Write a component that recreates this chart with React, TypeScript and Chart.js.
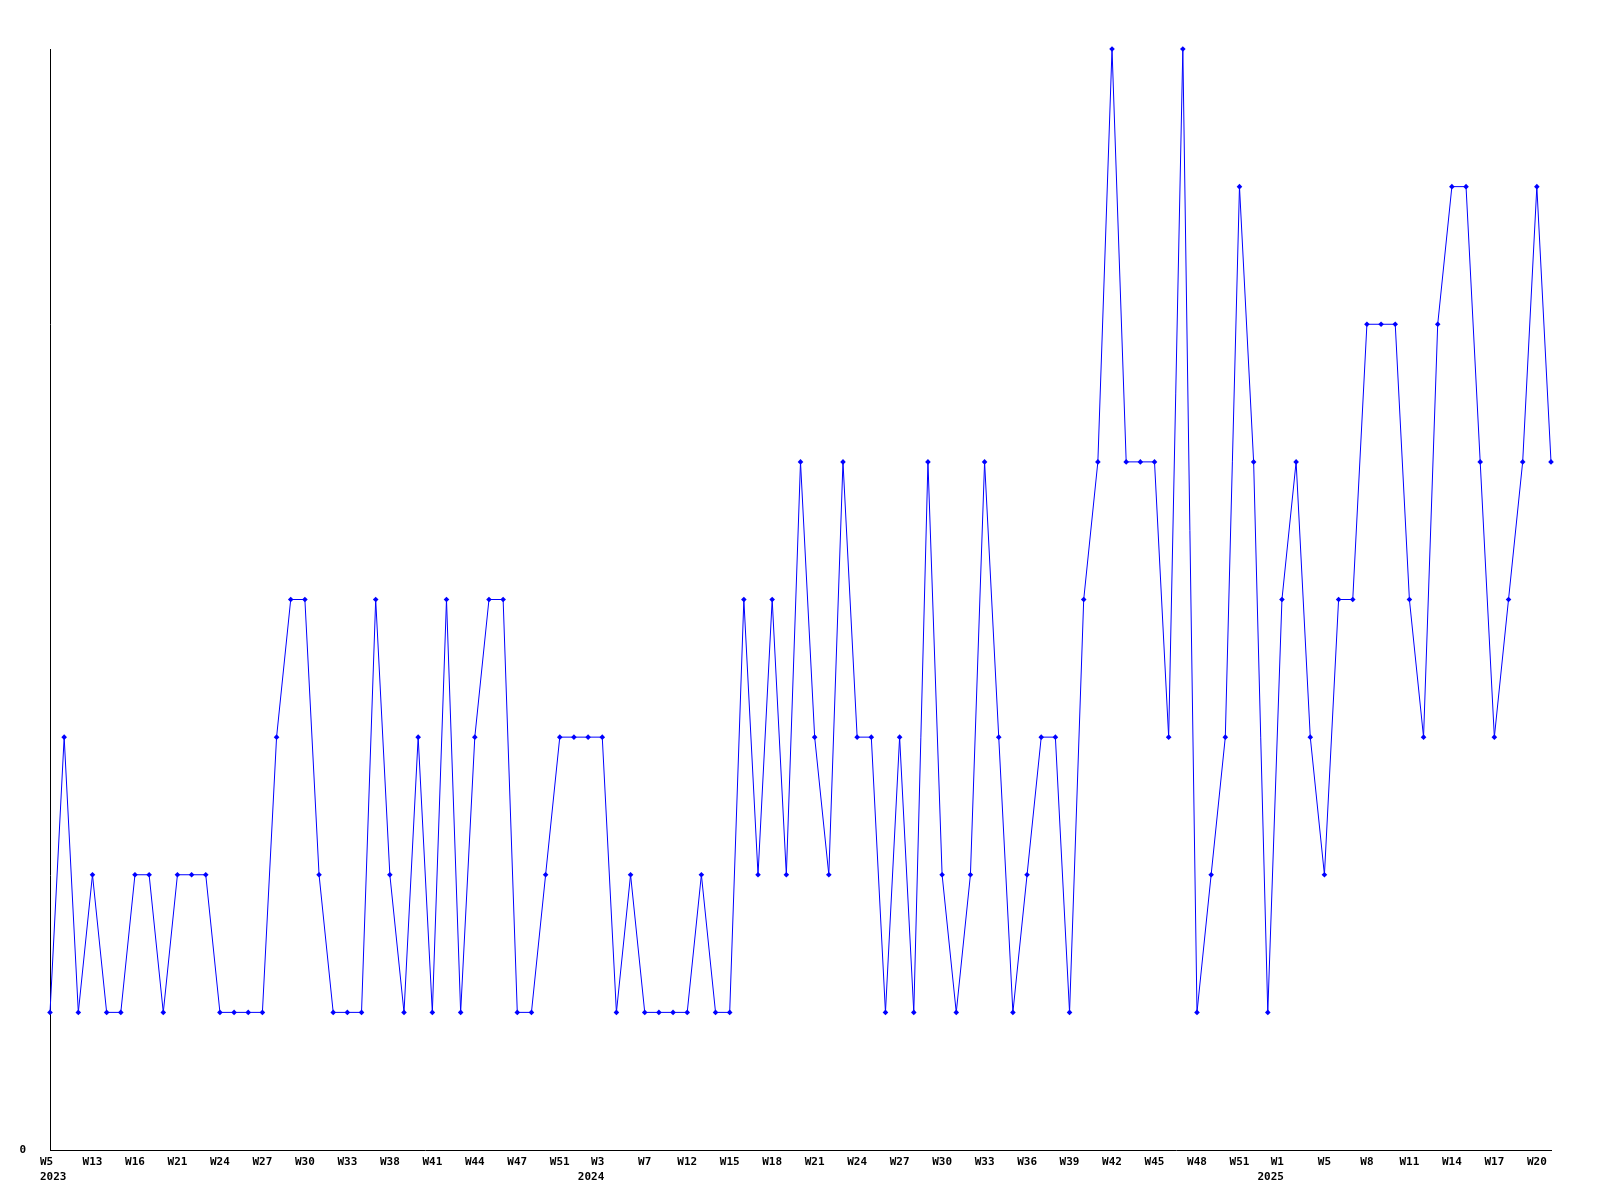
import React, { useEffect, useRef } from "react";
import { Chart, registerables } from "chart.js";

Chart.register(...registerables);

// Week categories (only every third one is labelled on the axis)
const weeks: string[] = [
  "W5", "W7", "W10", "W13", "W14", "W15", "W16", "W18", "W19", "W21",
  "W22", "W23", "W24", "W25", "W26", "W27", "W28", "W29", "W30", "W31",
  "W32", "W33", "W35", "W36", "W38", "W39", "W40", "W41", "W42", "W43",
  "W44", "W45", "W46", "W47", "W49", "W50", "W51", "W52", "W1", "W3",
  "W5", "W6", "W7", "W9", "W10", "W12", "W13", "W14", "W15", "W16",
  "W17", "W18", "W19", "W20", "W21", "W22", "W23", "W24", "W25", "W26",
  "W27", "W28", "W29", "W30", "W31", "W32", "W33", "W34", "W35", "W36",
  "W37", "W38", "W39", "W40", "W41", "W42", "W43", "W44", "W45", "W46",
  "W47", "W48", "W49", "W50", "W51", "W52", "W53", "W1", "W3", "W4",
  "W5", "W6", "W7", "W8", "W9", "W10", "W11", "W12", "W13", "W14",
  "W15", "W16", "W17", "W18", "W19", "W20", "W21",
];

const years: number[] = [
  2023, 2023, 2023, 2023, 2023, 2023, 2023, 2023, 2023, 2023,
  2023, 2023, 2023, 2023, 2023, 2023, 2023, 2023, 2023, 2023,
  2023, 2023, 2023, 2023, 2023, 2023, 2023, 2023, 2023, 2023,
  2023, 2023, 2023, 2023, 2023, 2023, 2023, 2023, 2024, 2024,
  2024, 2024, 2024, 2024, 2024, 2024, 2024, 2024, 2024, 2024,
  2024, 2024, 2024, 2024, 2024, 2024, 2024, 2024, 2024, 2024,
  2024, 2024, 2024, 2024, 2024, 2024, 2024, 2024, 2024, 2024,
  2024, 2024, 2024, 2024, 2024, 2024, 2024, 2024, 2024, 2024,
  2024, 2024, 2024, 2024, 2024, 2024, 2024, 2025, 2025, 2025,
  2025, 2025, 2025, 2025, 2025, 2025, 2025, 2025, 2025, 2025,
  2025, 2025, 2025, 2025, 2025, 2025, 2025,
];

const counts: number[] = [
  1, 3, 1, 2, 1, 1, 2, 2, 1, 2,
  2, 2, 1, 1, 1, 1, 3, 4, 4, 2,
  1, 1, 1, 4, 2, 1, 3, 1, 4, 1,
  3, 4, 4, 1, 1, 2, 3, 3, 3, 3,
  1, 2, 1, 1, 1, 1, 2, 1, 1, 4,
  2, 4, 2, 5, 3, 2, 5, 3, 3, 1,
  3, 1, 5, 2, 1, 2, 5, 3, 1, 2,
  3, 3, 1, 4, 5, 8, 5, 5, 5, 3,
  8, 1, 2, 3, 7, 5, 1, 4, 5, 3,
  2, 4, 4, 6, 6, 6, 4, 3, 6, 7,
  7, 5, 3, 4, 5, 7, 5,
];

const yMax = 8;
const labelEvery = 3;

const FONT_FAMILY = "'DejaVu Sans Mono', monospace";

function isYearTick(i: number): boolean {
  if (i % labelEvery !== 0) return false;
  const prev = i - labelEvery;
  return prev < 0 || years[prev] !== years[i];
}

const yearLabelPlugin = {
  id: "yearLabels",
  afterDraw(chart: any) {
    const xs = chart.scales.x;
    const ctx = chart.ctx;
    const bottom = chart.chartArea.bottom;
    ctx.save();
    ctx.font = `bold 11px ${FONT_FAMILY}`;
    ctx.fillStyle = "#000000";
    ctx.textBaseline = "middle";
    for (let i = 0; i < weeks.length; i++) {
      if (!isYearTick(i)) continue;
      const x = xs.getPixelForValue(i);
      if (i === 0) {
        ctx.textAlign = "left";
        ctx.fillText(weeks[i], x - 10, bottom + 12.6);
        ctx.fillText(String(years[i]), x - 10, bottom + 27);
      } else {
        ctx.textAlign = "right";
        ctx.fillText(weeks[i], x + 2, bottom + 12.6);
        ctx.fillText(String(years[i]), x + 2, bottom + 27);
      }
    }
    ctx.restore();
  },
};

export default function App() {
  const ref = useRef<HTMLCanvasElement | null>(null);

  useEffect(() => {
    if (!ref.current) return;
    const font = { family: FONT_FAMILY, size: 11, weight: "bold" as const, lineHeight: 1.2 };
    const chart = new Chart(ref.current, {
      type: "line",
      data: {
        labels: weeks,
        datasets: [
          {
            data: counts,
            borderColor: "#0000ff",
            backgroundColor: "#0000ff",
            borderWidth: 1,
            pointStyle: "rectRot",
            pointRadius: 2.8,
            pointBorderWidth: 0,
            pointBackgroundColor: "#0000ff",
            tension: 0,
            clip: false as any,
          },
        ],
      },
      plugins: [yearLabelPlugin],
      options: {
        animation: false,
        responsive: false,
        maintainAspectRatio: false,
        layout: { padding: { top: 49, right: 49, left: 0, bottom: 0 } },
        plugins: { legend: { display: false }, tooltip: { enabled: false } },
        scales: {
          x: {
            offset: false,
            grid: { display: false, drawTicks: false },
            border: { display: true, color: "#000000", width: 1 },
            afterFit: (s: any) => {
              s.height = 50;
            },
            ticks: {
              autoSkip: false,
              maxRotation: 0,
              minRotation: 0,
              padding: 6,
              color: "#000000",
              font,
              callback: (_v: any, i: number) => {
                if (i % labelEvery !== 0) return "";
                if (isYearTick(i)) return "";
                return weeks[i];
              },
            },
          },
          y: {
            min: 0,
            max: yMax,
            grid: { display: false, drawTicks: false },
            border: { display: true, color: "#000000", width: 1 },
            afterFit: (s: any) => {
              s.width = 50;
            },
            ticks: {
              stepSize: 1,
              padding: 24,
              color: "#000000",
              font,
              callback: (v: any) => (v === 0 ? "0" : ""),
            },
          },
        },
      },
    });
    return () => chart.destroy();
  }, []);

  return (
    <div style={{ position: "fixed", left: 0, top: 0, width: 1600, height: 1200, background: "#ffffff" }}>
      <canvas ref={ref} width={1600} height={1200} />
    </div>
  );
}
